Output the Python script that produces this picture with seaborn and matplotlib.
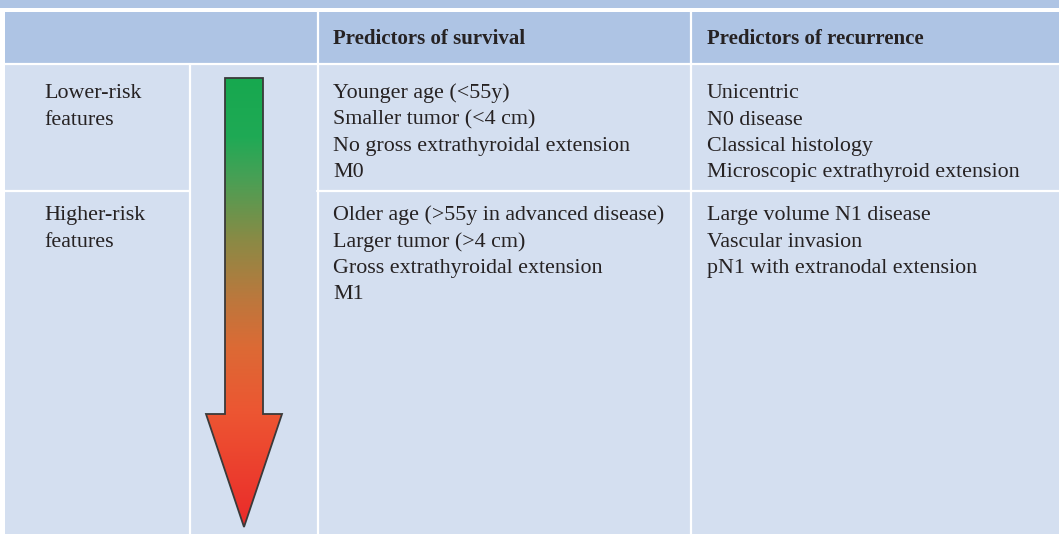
import numpy as np
import matplotlib
matplotlib.use("Agg")
import matplotlib.pyplot as plt
from matplotlib.patches import Rectangle, Polygon
from matplotlib.colors import LinearSegmentedColormap
import seaborn as sns

sns.set_theme(style="white")
plt.rcParams['font.family'] = ['Liberation Serif', 'DejaVu Serif']

# ---- table content ----
headers = ["", "Predictors of survival", "Predictors of recurrence"]
row_labels = ["Lower-risk\nfeatures", "Higher-risk\nfeatures"]
survival_low = ["Younger age (<55y)", "Smaller tumor (<4 cm)",
                "No gross extrathyroidal extension", "M0"]
survival_high = ["Older age (>55y in advanced disease)", "Larger tumor (>4 cm)",
                 "Gross extrathyroidal extension", "M1"]
recurrence_low = ["Unicentric", "N0 disease", "Classical histology",
                  "Microscopic extrathyroid extension"]
recurrence_high = ["Large volume N1 disease", "Vascular invasion",
                   "pN1 with extranodal extension"]
arrow_stops = [0.0, 0.13, 0.22, 0.36, 0.49, 0.6, 0.75, 1.0]
arrow_colors = ["#17a84f", "#1faa55", "#47a055", "#8a8a45", "#bb783d",
                "#dc6a35", "#ed5532", "#ea2a2a"]

W, H = 1059, 534
fig = plt.figure(figsize=(W / 100, H / 100), dpi=100)
ax = fig.add_axes([0, 0, 1, 1])
ax.set_xlim(0, W)
ax.set_ylim(H, 0)
ax.axis("off")

HDR = "#aec4e4"
BODY = "#d4dff0"
LINE = "white"

# top band
ax.add_patch(Rectangle((0, 0), W, 7.5, color=HDR, lw=0))
# header row
ax.add_patch(Rectangle((5, 12), W - 5, 51, color=HDR, lw=0))
# body
ax.add_patch(Rectangle((5, 64), W - 5, H - 64, color=BODY, lw=0))

# grid lines
ax.plot([5, W], [63.5, 63.5], color=LINE, lw=1.6)
ax.plot([5, 189], [191, 191], color=LINE, lw=1.6)
ax.plot([317, W], [191, 191], color=LINE, lw=1.6)
ax.plot([189.5, 189.5], [64, H], color=LINE, lw=1.6)
ax.plot([317.5, 317.5], [12, H], color=LINE, lw=1.6)
ax.plot([690.5, 690.5], [12, H], color=LINE, lw=1.6)

fs = 15.8
txt = dict(fontsize=fs, color="#262223", va="baseline", ha="left")
hdr = dict(txt, fontsize=15, fontweight="bold")
ax.text(333, 43.5, headers[1], **hdr)
ax.text(707, 43.5, headers[2], **hdr)

pitch = 26.3
b1, b2 = 98.3, 220.3
for i, lab in enumerate(row_labels[0].split("\n")):
    ax.text(44, b1 + i * pitch, lab, **txt)
for i, lab in enumerate(row_labels[1].split("\n")):
    ax.text(44, b2 + i * pitch, lab, **txt)
for i, s in enumerate(survival_low):
    ax.text(333, b1 + i * pitch, s, **txt)
for i, s in enumerate(survival_high):
    ax.text(333, b2 + i * pitch, s, **txt)
for i, s in enumerate(recurrence_low):
    ax.text(707, b1 + i * pitch, s, **txt)
for i, s in enumerate(recurrence_high):
    ax.text(707, b2 + i * pitch, s, **txt)

# gradient arrow
x0, x1 = 225, 263
hx0, hx1 = 206, 282
top, head, tip = 78, 414, 527
xc = (hx0 + hx1) / 2
verts = [(x0, top), (x1, top), (x1, head), (hx1, head), (xc, tip),
         (hx0, head), (x0, head)]
poly = Polygon(verts, closed=True, facecolor="none", edgecolor="#3a3a3a", lw=1.3, zorder=3)
ax.add_patch(poly)
cmap = LinearSegmentedColormap.from_list("risk", list(zip(arrow_stops, arrow_colors)))
grad = np.linspace(0, 1, 256).reshape(-1, 1)
im = ax.imshow(grad, cmap=cmap, extent=(hx0, hx1, tip, top), aspect="auto", zorder=2)
clip = Polygon(verts, closed=True, transform=ax.transData)
im.set_clip_path(clip)
ax.set_xlim(0, W)
ax.set_ylim(H, 0)

fig.savefig("out.png", dpi=100)
